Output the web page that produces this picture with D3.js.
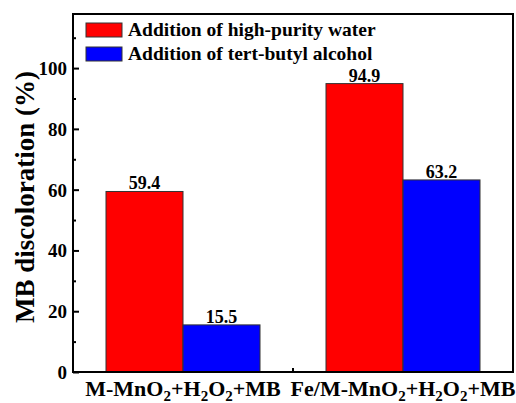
<!DOCTYPE html>
<html>
<head>
<meta charset="utf-8">
<script src="https://cdn.jsdelivr.net/npm/d3@7"></script>
<style>
  body { margin: 0; background: #fff; }
</style>
</head>
<body>
<div id="chart"></div>
<script>
// data
const categories = ["M-MnO2+H2O2+MB", "Fe/M-MnO2+H2O2+MB"];
const seriesNames = ["Addition of high-purity water", "Addition of tert-butyl alcohol"];
const waterValues = [59.4, 94.9];
const tbaValues = [15.5, 63.2];
const yTicks = [0, 20, 40, 60, 80, 100];
const yMinorTicks = [10, 30, 50, 70, 90, 110];
const colors = ["#ff0000", "#0000ff"];

const width = 516, height = 403;
const margin = { top: 14, right: 3, bottom: 31, left: 73 };

const svg = d3.select("#chart").append("svg")
  .attr("width", width).attr("height", height);

const x = d3.scaleBand().domain(categories)
  .range([margin.left, width - margin.right]);
const y = d3.scaleLinear().domain([0, 117.8])
  .range([height - margin.bottom, margin.top]);

// bars
const rows = categories.map((c, i) => ({ c, vals: [waterValues[i], tbaValues[i]] }));
const bw = x.bandwidth() * 0.35;
const g = svg.selectAll("g.grp").data(rows).join("g")
  .attr("class", "grp")
  .attr("transform", d => `translate(${x(d.c) + x.bandwidth() / 2},0)`);
g.selectAll("rect").data(d => d.vals).join("rect")
  .attr("x", (d, i) => i === 0 ? -bw : 0)
  .attr("y", d => y(d))
  .attr("width", bw)
  .attr("height", d => y(0) - y(d))
  .attr("fill", (d, i) => colors[i])
  .attr("stroke", "#333").attr("stroke-width", 1);
g.selectAll("text").data(d => d.vals).join("text")
  .attr("x", (d, i) => i === 0 ? -bw / 2 : bw / 2)
  .attr("y", d => y(d) - 2)
  .attr("text-anchor", "middle")
  .attr("font-size", 18)
  .text(d => d.toFixed(1));

// y axis, ticks inside
const yAxis = d3.axisLeft(y).tickValues(yTicks).tickSize(-6).tickPadding(6).tickFormat(d3.format("d"));
const ya = svg.append("g").attr("transform", `translate(${margin.left},0)`).call(yAxis);
ya.select(".domain").remove();
ya.selectAll("line").attr("stroke-width", 2);
ya.selectAll("text").attr("font-size", 19).attr("dy", "0.34em");
const yMinor = d3.axisLeft(y).tickValues(yMinorTicks).tickSize(-3).tickFormat("");
const ym = svg.append("g").attr("transform", `translate(${margin.left},0)`).call(yMinor);
ym.select(".domain").remove();
ym.selectAll("line").attr("stroke-width", 2);

// x axis: one tick between categories
const xb = svg.append("g").attr("transform", `translate(0,${y(0)})`);
xb.append("line")
  .attr("x1", x(categories[1])).attr("x2", x(categories[1]))
  .attr("y1", 0).attr("y2", -4).attr("stroke", "#000").attr("stroke-width", 2);

// x labels with subscripts
const lbl = svg.selectAll("text.xl").data(categories).join("text")
  .attr("class", "xl")
  .attr("x", d => x(d) + x.bandwidth() / 2)
  .attr("y", 396)
  .attr("text-anchor", "middle")
  .attr("font-size", 22);
lbl.each(function (d) {
  const t = d3.select(this);
  let shift = 0;
  d.split(/(2)/).forEach(part => {
    if (!part) return;
    if (part === "2") {
      t.append("tspan").attr("font-size", 15).attr("dy", 5).text("2");
      shift = -5;
    } else {
      t.append("tspan").attr("dy", shift).text(part);
      shift = 0;
    }
  });
});

// frame
svg.append("rect")
  .attr("x", margin.left).attr("y", margin.top)
  .attr("width", width - margin.right - margin.left)
  .attr("height", y(0) - margin.top)
  .attr("fill", "none").attr("stroke", "#000").attr("stroke-width", 2);

// y title
svg.append("text")
  .attr("transform", "translate(34,197) rotate(-90)")
  .attr("text-anchor", "middle")
  .attr("font-size", 27)
  .text("MB discoloration (%)");

// legend
const leg = svg.append("g").attr("transform", "translate(86,23)");
seriesNames.forEach((s, i) => {
  leg.append("rect").attr("x", 0).attr("y", i * 24).attr("width", 36).attr("height", 14)
    .attr("fill", colors[i]).attr("stroke", "#333").attr("stroke-width", 1);
  leg.append("text").attr("x", 42).attr("y", i * 24 + 13)
    .attr("font-size", 19.5).text(s);
});

// serif bold everywhere
svg.selectAll("text")
  .style("font-family", "'Liberation Serif', 'Times New Roman', Times, serif")
  .style("font-weight", "bold");
</script>
</body>
</html>
